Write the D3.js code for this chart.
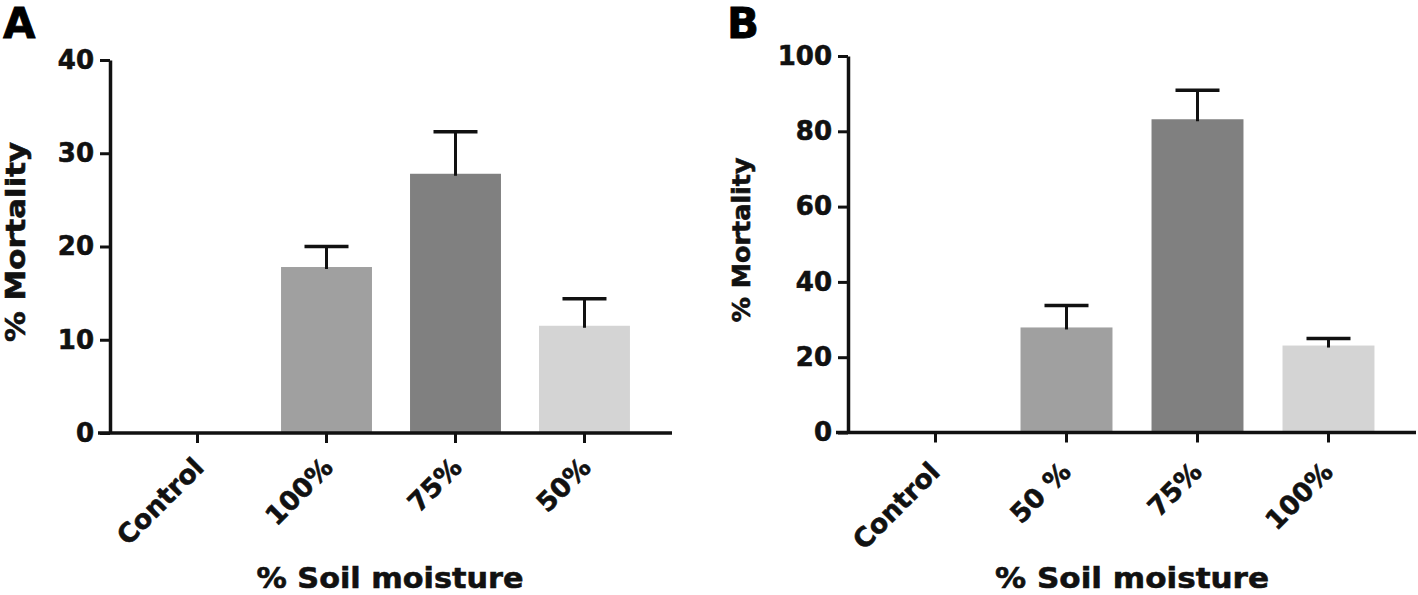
<!DOCTYPE html>
<html><head><meta charset="utf-8">
<script src="https://cdn.jsdelivr.net/npm/d3@7"></script>
<style>body{margin:0;background:#fff} svg{display:block}</style></head><body>
<svg id="c" width="1418" height="595"></svg>
<script>
// ---- data ----
const categoriesA = ["Control", "100%", "75%", "50%"];
const valuesA = [0, 17.8, 27.8, 11.5];
const errorsA = [0, 2.2, 4.5, 2.9];
const ticksA = [0, 10, 20, 30, 40];

const categoriesB = ["Control", "50 %", "75%", "100%"];
const valuesB = [0, 27.9, 83.2, 23.1];
const errorsB = [0, 5.8, 7.7, 1.9];
const ticksB = [0, 20, 40, 60, 80, 100];

const barColors = [null, "#a0a0a0", "#808080", "#d4d4d4"];
const yTitle = "% Mortality";
const xTitle = "% Soil moisture";

const svg = d3.select("#c");
const FONT = "'DejaVu Sans', sans-serif";

function heavy(sel) {
  return sel.attr("font-family", FONT).attr("font-weight", "bold")
    .attr("fill", "#111").attr("stroke", "#111").attr("stroke-width", 0.6);
}

function panel(o) {
  const g = svg.append("g");
  const y = d3.scaleLinear().domain([0, o.ticks[o.ticks.length - 1]]).range([o.bottom, o.top]);
  const x = d3.scaleBand().domain(o.cats).range([o.left, o.right])
    .paddingInner(o.pi).paddingOuter(o.po);

  // bars
  g.selectAll("rect.bar").data(o.cats.map((c, i) => ({c, v: o.vals[i], e: o.errs[i], col: barColors[i]})))
    .enter().filter(d => d.v > 0).append("rect")
    .attr("x", d => x(d.c)).attr("width", x.bandwidth())
    .attr("y", d => y(d.v)).attr("height", d => y(0) - y(d.v))
    .attr("fill", d => d.col);

  // error bars (upper only)
  const eb = g.selectAll("g.err").data(o.cats.map((c, i) => ({c, v: o.vals[i], e: o.errs[i]})).filter(d => d.e > 0))
    .enter().append("g");
  eb.append("line")
    .attr("x1", d => x(d.c) + x.bandwidth() / 2).attr("x2", d => x(d.c) + x.bandwidth() / 2)
    .attr("y1", d => y(d.v) + 2).attr("y2", d => y(d.v + d.e))
    .attr("stroke", "#111").attr("stroke-width", 3);
  eb.append("line")
    .attr("x1", d => x(d.c) + x.bandwidth() / 2 - 22).attr("x2", d => x(d.c) + x.bandwidth() / 2 + 22)
    .attr("y1", d => y(d.v + d.e)).attr("y2", d => y(d.v + d.e))
    .attr("stroke", "#111").attr("stroke-width", 3.5);

  // y axis
  const ya = g.append("g").attr("transform", `translate(${o.left},0)`)
    .call(d3.axisLeft(y).tickValues(o.ticks).tickSize(10).tickPadding(6).tickSizeOuter(0));
  ya.select(".domain").attr("stroke", "#111").attr("stroke-width", 3.5);
  ya.selectAll(".tick line").attr("stroke", "#111").attr("stroke-width", 3);
  heavy(ya.selectAll(".tick text")).attr("font-size", 26);

  // x axis
  const xa = g.append("g").attr("transform", `translate(0,${o.bottom})`)
    .call(d3.axisBottom(x).tickSize(10).tickSizeOuter(0).tickPadding(0));
  xa.select(".domain").attr("stroke", "#111").attr("stroke-width", 3.5)
    .attr("d", `M${o.left - 12},0H${o.right}`);
  xa.selectAll(".tick line").attr("stroke", "#111").attr("stroke-width", 3);
  heavy(xa.selectAll(".tick text")).attr("font-size", 26.5)
    .attr("text-anchor", "end").attr("dy", 0).attr("y", 0)
    .attr("transform", `translate(${o.lblDx},${o.lblDy}) rotate(-45)`);

  // titles
  heavy(g.append("text")).attr("font-size", o.ytSize).attr("text-anchor", "middle")
    .attr("textLength", o.ytLen).attr("lengthAdjust", "spacingAndGlyphs")
    .attr("transform", `translate(${o.ytX},${o.ytY}) rotate(-90)`).text(yTitle);
  heavy(g.append("text")).attr("font-size", 29).attr("text-anchor", "middle")
    .attr("textLength", o.xtLen).attr("lengthAdjust", "spacingAndGlyphs")
    .attr("x", o.xtX).attr("y", 588).text(xTitle);
  g.append("text").attr("font-family", FONT).attr("font-weight", "bold").attr("font-size", 42)
    .attr("fill", "#000").attr("stroke", "#000").attr("stroke-width", 0.8)
    .attr("x", o.letterX).attr("y", 38).text(o.letter);
}

panel({letter: "A", letterX: 3, cats: categoriesA, vals: valuesA, errs: errorsA, ticks: ticksA,
  left: 110, right: 672, top: 60, bottom: 433, pi: 0.295, po: 0.326, lblDx: 8, lblDy: 36,
  ytX: 25, ytY: 242, ytLen: 200, ytSize: 26, xtX: 390, xtLen: 267});
panel({letter: "B", letterX: 727, cats: categoriesB, vals: valuesB, errs: errorsB, ticks: ticksB,
  left: 848, right: 1416, top: 56, bottom: 432.5, pi: 0.298, po: 0.317, lblDx: 6, lblDy: 41,
  ytX: 750, ytY: 240, ytLen: 165, ytSize: 25, xtX: 1132, xtLen: 274});
</script>
</body></html>
